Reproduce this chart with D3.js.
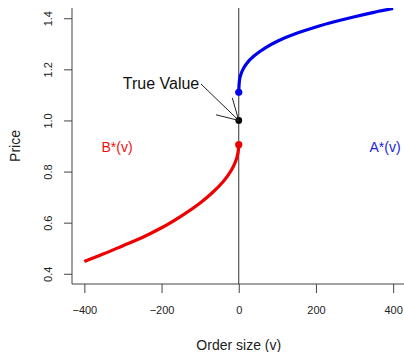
<!DOCTYPE html>
<html>
<head>
<meta charset="utf-8">
<script src="https://cdn.jsdelivr.net/npm/d3@7"></script>
<style>
  html, body { margin: 0; padding: 0; background: #fff; }
  svg { display: block; font-family: "Liberation Sans", Arial, sans-serif; }
</style>
</head>
<body>
<svg id="chart" width="404" height="352"></svg>
<script>
// Bid curve B*(v): price at which an order of size v (sell side, v < 0) executes
const bidSizes  = [0, -2, -5, -10, -20, -40, -70, -100, -150, -200, -250, -300, -350, -400];
const bidPrices = [0.905, 0.873, 0.854, 0.833, 0.803, 0.761, 0.715, 0.677, 0.625, 0.580, 0.542, 0.510, 0.478, 0.448];

// Ask curve A*(v): buy side, v > 0
const askSizes  = [0, 2, 5, 10, 20, 40, 70, 100, 150, 200, 250, 300, 350, 400];
const askPrices = [1.110, 1.159, 1.178, 1.197, 1.222, 1.253, 1.285, 1.310, 1.341, 1.366, 1.387, 1.406, 1.423, 1.438];

const trueValue = 1.0;

const xTicks = [-400, -200, 0, 200, 400];
const yTicks = [0.4, 0.6, 0.8, 1.0, 1.2, 1.4];

(function draw() {
  const svg = d3.select("#chart");

  // Plot region (R-style 4% padding around xlim/ylim)
  const pL = 72, pR = 405.5, pT = 8, pB = 284;
  const x = d3.scaleLinear().domain([-432, 432]).range([pL, pR]);
  const y = d3.scaleLinear().domain([0.36, 1.44]).range([pB, pT]);

  const axisColor = "#444";
  const font = "Liberation Sans, Arial, sans-serif";

  // L-shaped frame
  svg.append("path")
    .attr("d", `M${pL},${pT}V${pB}H${pR}`)
    .attr("fill", "none").attr("stroke", axisColor).attr("stroke-width", 1);

  // Y axis ticks and rotated labels
  const yAxis = svg.append("g").attr("transform", `translate(${pL},0)`)
    .call(d3.axisLeft(y).tickValues(yTicks).tickSize(8).tickFormat(d3.format(".1f")));
  yAxis.select(".domain").remove();
  yAxis.selectAll(".tick line").attr("stroke", axisColor);
  yAxis.selectAll(".tick text")
    .attr("transform", "translate(-24,0) rotate(-90)")
    .attr("x", 0).attr("y", 0).attr("dy", "0.35em")
    .attr("text-anchor", "middle")
    .attr("font-size", 11).attr("fill", "#222").attr("font-family", font);

  // X axis ticks and labels
  const xAxis = svg.append("g").attr("transform", `translate(0,${pB})`)
    .call(d3.axisBottom(x).tickValues(xTicks).tickSize(9).tickPadding(13).tickFormat(d3.format("d")));
  xAxis.select(".domain").remove();
  xAxis.selectAll(".tick line").attr("stroke", axisColor);
  xAxis.selectAll(".tick text")
    .attr("font-size", 11).attr("fill", "#222").attr("font-family", font);

  // Axis titles
  svg.append("text").attr("x", x(0)).attr("y", 350)
    .attr("text-anchor", "middle").attr("font-size", 14).attr("fill", "#222")
    .text("Order size (v)");
  svg.append("text")
    .attr("transform", `translate(20,${(pT + pB) / 2}) rotate(-90)`)
    .attr("text-anchor", "middle").attr("font-size", 14).attr("fill", "#222")
    .text("Price");

  // Clip to plot region
  svg.append("clipPath").attr("id", "plot")
    .append("rect").attr("x", pL).attr("y", pT).attr("width", pR - pL).attr("height", pB - pT);
  const g = svg.append("g").attr("clip-path", "url(#plot)");

  // Vertical reference line at v = 0
  g.append("line")
    .attr("x1", x(0)).attr("x2", x(0)).attr("y1", pT).attr("y2", pB)
    .attr("stroke", "#333").attr("stroke-width", 1);

  const line = d3.line().x(d => x(d[0])).y(d => y(d[1])).curve(d3.curveMonotoneY);

  g.append("path")
    .datum(d3.zip(bidSizes, bidPrices))
    .attr("d", line)
    .attr("fill", "none").attr("stroke", "#ee0000").attr("stroke-width", 3.2);

  g.append("path")
    .datum(d3.zip(askSizes, askPrices))
    .attr("d", line)
    .attr("fill", "none").attr("stroke", "#0000ee").attr("stroke-width", 3.2);

  // Endpoints at v = 0
  g.append("circle").attr("cx", x(0)).attr("cy", y(bidPrices[0])).attr("r", 3.6).attr("fill", "#ee0000");
  g.append("circle").attr("cx", x(0)).attr("cy", y(askPrices[0])).attr("r", 3.6).attr("fill", "#0000ee");
  g.append("circle").attr("cx", x(0)).attr("cy", y(trueValue)).attr("r", 3.4).attr("fill", "#000");

  // Curve labels
  svg.append("text").attr("x", 117).attr("y", 147).attr("dy", "0.35em")
    .attr("text-anchor", "middle").attr("font-size", 14).attr("fill", "#ee1111")
    .text("B*(v)");
  svg.append("text").attr("x", 385).attr("y", 147).attr("dy", "0.35em")
    .attr("text-anchor", "middle").attr("font-size", 14).attr("fill", "#2222dd")
    .text("A*(v)");

  // "True Value" annotation with arrow pointing at the dot
  svg.append("text").attr("x", 161).attr("y", 89)
    .attr("text-anchor", "middle").attr("font-size", 16).attr("fill", "#111")
    .text("True Value");

  const tipX = x(0), tipY = y(trueValue);
  const startX = 201, startY = 84;
  svg.append("line")
    .attr("x1", startX).attr("y1", startY).attr("x2", tipX).attr("y2", tipY)
    .attr("stroke", "#222").attr("stroke-width", 1);
  const ang = Math.atan2(startY - tipY, startX - tipX);
  const headLen = 23.5, spread = Math.PI / 6;
  [ang - spread, ang + spread].forEach(a => {
    svg.append("line")
      .attr("x1", tipX).attr("y1", tipY)
      .attr("x2", tipX + headLen * Math.cos(a)).attr("y2", tipY + headLen * Math.sin(a))
      .attr("stroke", "#222").attr("stroke-width", 1);
  });
})();
</script>
</body>
</html>
